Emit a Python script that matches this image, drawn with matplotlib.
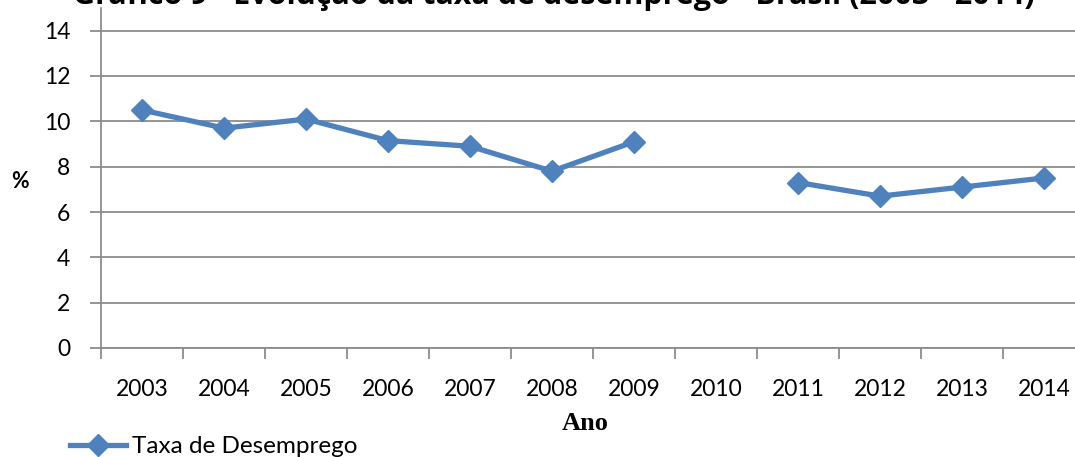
import numpy as np
import matplotlib
matplotlib.use('Agg')
from matplotlib import pyplot as plt

anos = ['2003', '2004', '2005', '2006', '2007', '2008', '2009', '2010', '2011', '2012', '2013', '2014']
taxa = [10.5, 9.7, 10.1, 9.15, 8.9, 7.8, 9.1, np.nan, 7.3, 6.7, 7.1, 7.5]

cor = '#4F81BD'
cinza = '#8C8C8C'

fig = plt.figure(figsize=(10.75, 4.57), dpi=100)
# plot area: left 101px, right runs past the edge, y 0 at 348px, 15 at ~8px
ax = fig.add_axes([101/1075, 1 - 348/457, 984/1075, 340/457])

x = np.arange(len(anos))
ax.plot(x, taxa, color=cor, lw=3.8, marker='D', ms=11, label='Taxa de Desemprego')

ax.set_xlim(-0.5, len(anos) - 0.5)
ax.set_ylim(0, 15)
ax.set_yticks(range(0, 15, 2))
ax.set_xticks(x)
ax.set_xticklabels(anos)
ax.set_xticks(np.arange(-0.5, len(anos), 1), minor=True)

ax.grid(axis='y', color=cinza, lw=1.3)
ax.set_axisbelow(True)
for s in ['top', 'right']:
    ax.spines[s].set_visible(False)
for s in ['left', 'bottom']:
    ax.spines[s].set_color(cinza)
    ax.spines[s].set_linewidth(1.3)

ax.tick_params(axis='x', which='major', length=0, pad=22, labelsize=16.5)
ax.tick_params(axis='x', which='minor', length=8, width=1.3, color=cinza, direction='out')
ax.tick_params(axis='y', length=8, width=1.3, color=cinza, pad=14, labelsize=16.5)
for lab in ax.get_xticklabels() + ax.get_yticklabels():
    lab.set_fontfamily('Lato')

# title cut off at the top, like the source
fig.text(0.515, 1 - 4/457, 'Gráfico 9 - Evolução da taxa de desemprego - Brasil (2003 - 2014)',
         ha='center', va='baseline', fontsize=22, fontweight='bold', family='Open Sans')
fig.text(20/1075, 1 - 181/457, '%', ha='center', va='center', fontsize=15.5, fontweight='bold', family='Lato')
fig.text(585/1075, 1 - 423/457, 'Ano', ha='center', va='center', fontsize=19, fontweight='bold',
         family='Liberation Serif')

leg = fig.legend(loc='lower left', bbox_to_anchor=(48/1075, -22/457), frameon=False,
                 prop={'family': 'Lato', 'size': 17.5}, handlelength=2.3, handletextpad=0.25)

fig.savefig('out.png', dpi=100)
